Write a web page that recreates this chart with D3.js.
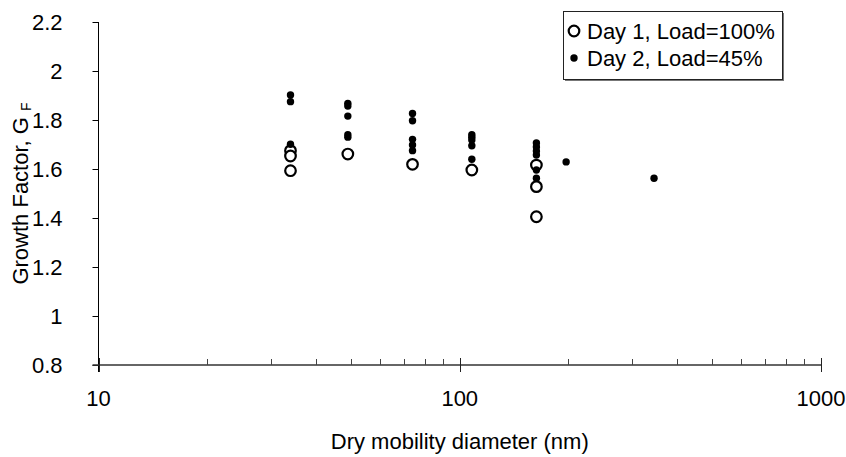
<!DOCTYPE html>
<html>
<head>
<meta charset="utf-8">
<script src="https://cdn.jsdelivr.net/npm/d3@7"></script>
<style>
  html, body { margin: 0; padding: 0; background: #fff; }
  svg text { font-family: "Liberation Sans", Arial, sans-serif; fill: #000; }
</style>
</head>
<body>
<svg id="chart" width="846" height="457"></svg>
<script>
// ---- data ----
const day1Diameters = [34, 34, 34, 49, 74, 108, 163, 163, 163];
const day1Growth    = [1.675, 1.653, 1.593, 1.661, 1.619, 1.596, 1.616, 1.528, 1.405];

const day2Diameters = [34, 34, 34, 49, 49, 49, 49, 49, 74, 74, 74, 74, 74, 108, 108, 108, 108, 108, 163, 163, 163, 163, 163, 163, 197, 345];
const day2Growth    = [1.902, 1.875, 1.701, 1.868, 1.857, 1.816, 1.740, 1.730, 1.827, 1.797, 1.721, 1.698, 1.675, 1.740, 1.730, 1.718, 1.695, 1.640, 1.706, 1.690, 1.673, 1.657, 1.596, 1.562, 1.629, 1.562];

const yTicks = [0.8, 1, 1.2, 1.4, 1.6, 1.8, 2, 2.2];
const xMajorTicks = [10, 100, 1000];
const xMinorTicks = [20, 30, 40, 50, 60, 70, 80, 90, 200, 300, 400, 500, 600, 700, 800, 900];
const seriesNames = ["Day 1, Load=100%", "Day 2, Load=45%"];
const xTitle = "Dry mobility diameter (nm)";

// ---- layout ----
const svg = d3.select("#chart");
const mLeft = 98.5, mRight = 821, mTop = 22, mBottom = 365;
const x = d3.scaleLog().domain([10, 1000]).range([mLeft, mRight]);
const y = d3.scaleLinear().domain([0.8, 2.2]).range([mBottom, mTop]);
const fs = 22;

// y axis
const yAxis = d3.axisLeft(y).tickValues(yTicks).tickSize(6).tickPadding(28)
  .tickFormat(d => String(+d.toFixed(1)));
const gy = svg.append("g").attr("transform", `translate(${mLeft},0)`).call(yAxis);
gy.select(".domain").attr("stroke", "#000").attr("d", `M0,${mTop}V${mBottom + 7}`);
gy.selectAll(".tick line").attr("stroke", "#000");
gy.selectAll(".tick text").style("font-size", fs + "px").attr("dy", "0.36em").attr("x", -36);

// x axis
svg.append("line").attr("x1", mLeft - 6).attr("x2", mRight)
  .attr("y1", mBottom).attr("y2", mBottom).attr("stroke", "#333").attr("stroke-width", 1.3);
svg.append("g").selectAll("line").data(xMinorTicks).join("line")
  .attr("x1", d => Math.round(x(d)) + 0.5).attr("x2", d => Math.round(x(d)) + 0.5)
  .attr("y1", mBottom - 6).attr("y2", mBottom).attr("stroke", "#444");
svg.append("g").selectAll("line").data(xMajorTicks).join("line")
  .attr("x1", d => Math.round(x(d)) + 0.5).attr("x2", d => Math.round(x(d)) + 0.5)
  .attr("y1", mBottom - 7).attr("y2", mBottom + 7).attr("stroke", "#222");
svg.append("g").selectAll("text").data(xMajorTicks).join("text")
  .attr("x", d => x(d)).attr("y", 406).attr("text-anchor", "middle")
  .style("font-size", fs + "px").text(d => d);

// axis titles
svg.append("text").attr("x", (mLeft + mRight) / 2).attr("y", 449).attr("text-anchor", "middle")
  .style("font-size", fs + "px").text(xTitle);
const yt = svg.append("text").attr("transform", `translate(28,${(mTop + mBottom) / 2}) rotate(-90)`)
  .attr("text-anchor", "middle").style("font-size", fs + "px");
yt.append("tspan").text("Growth Factor, G ");
yt.append("tspan").style("font-size", "14px").attr("dy", 3).text("F");

// data
const d1 = day1Diameters.map((d, i) => ({ d, g: day1Growth[i] }));
const d2 = day2Diameters.map((d, i) => ({ d, g: day2Growth[i] }));
svg.append("g").selectAll("circle").data(d1).join("circle")
  .attr("cx", p => x(p.d)).attr("cy", p => y(p.g)).attr("r", 5.3)
  .attr("fill", "#fff").attr("stroke", "#000").attr("stroke-width", 2.2);
svg.append("g").selectAll("circle").data(d2).join("circle")
  .attr("cx", p => x(p.d)).attr("cy", p => y(p.g)).attr("r", 3.7)
  .attr("fill", "#000");

// legend
const lg = svg.append("g");
lg.append("rect").attr("x", 565).attr("y", 13).attr("width", 219).attr("height", 68).attr("fill", "#777");
lg.append("rect").attr("x", 563.5).attr("y", 11.5).attr("width", 219).attr("height", 68)
  .attr("fill", "#fff").attr("stroke", "#222").attr("stroke-width", 1);
const rows = [31, 58];
lg.append("circle").attr("cx", 574).attr("cy", rows[0]).attr("r", 5.3)
  .attr("fill", "#fff").attr("stroke", "#000").attr("stroke-width", 2.2);
lg.append("circle").attr("cx", 574).attr("cy", rows[1]).attr("r", 3.7).attr("fill", "#000");
lg.selectAll("text").data(seriesNames).join("text")
  .attr("x", 587).attr("y", (d, i) => rows[i]).attr("dy", "0.36em")
  .style("font-size", fs + "px").text(d => d);
</script>
</body>
</html>
